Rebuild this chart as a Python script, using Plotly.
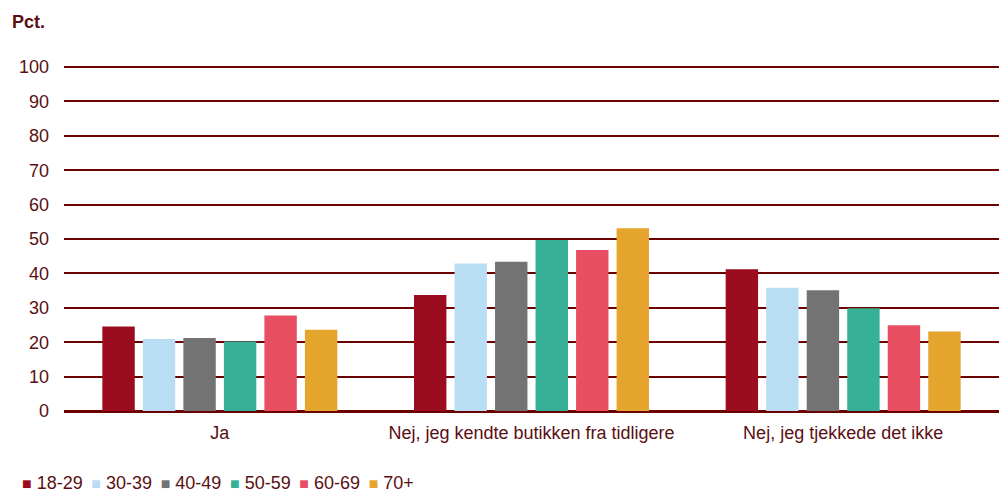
import plotly.graph_objects as go

categories = ["Ja", "Nej, jeg kendte butikken fra tidligere", "Nej, jeg tjekkede det ikke"]
age_groups = ["18-29", "30-39", "40-49", "50-59", "60-69", "70+"]
v_18_29 = [24.6, 33.7, 41.2]
v_30_39 = [20.9, 42.9, 35.8]
v_40_49 = [21.2, 43.4, 35.1]
v_50_59 = [20.2, 49.7, 29.9]
v_60_69 = [27.8, 46.8, 24.9]
v_70 = [23.6, 53.1, 23.1]
series = [v_18_29, v_30_39, v_40_49, v_50_59, v_60_69, v_70]
colors = ["#9b0c1e", "#b9ddf3", "#737373", "#36b097", "#e84f62", "#e5a42b"]
y_ticks = [0, 10, 20, 30, 40, 50, 60, 70, 80, 90, 100]

txt = "#5a0f12"
grid = "#6b0000"
FONT = "Liberation Sans, Arial, sans-serif"

fig = go.Figure()
for name, vals, col in zip(age_groups, series, colors):
    fig.add_trace(go.Bar(x=categories, y=vals, name=name, marker_color=col,
                         marker_line_width=0, showlegend=False))

legend_text = "&nbsp;&#8201;".join(
    f"<span style='color:{c};font-size:16px'>■</span>&nbsp;{g}"
    for g, c in zip(age_groups, colors)
)

fig.update_layout(
    width=999, height=493,
    paper_bgcolor="white", plot_bgcolor="white",
    margin=dict(l=64, r=0, t=66, b=82, autoexpand=False),
    barmode="group", bargap=0.22, bargroupgap=0.2,
    font=dict(family=FONT, size=18, color=txt),
    showlegend=False,
    annotations=[
        dict(text="<b>Pct.</b>", x=12, y=22, xref="paper", yref="paper",
             showarrow=False, xanchor="left", yanchor="middle",
             font=dict(size=18, color=txt)),
        dict(text=legend_text, x=0, y=0, xref="paper", yref="paper",
             showarrow=False, xanchor="left", yanchor="middle",
             font=dict(size=18, color=txt)),
    ],
)
# position annotations in pixel terms relative to plot area (plot: x 64..999, y 66..411)
pw, ph = 999 - 64, 493 - 66 - 82
fig.layout.annotations[0].update(x=(10 - 64) / pw, y=(411 - 22) / ph)
fig.layout.annotations[1].update(x=(20 - 64) / pw, y=(411 - 483) / ph)

fig.update_xaxes(showgrid=False, showline=False, ticks="", automargin=False,
                 ticklabelstandoff=9, tickfont=dict(size=18, color=txt))
fig.update_yaxes(range=[0, 100.3], tickvals=y_ticks, showgrid=True, gridcolor=grid,
                 gridwidth=2, zeroline=True, zerolinecolor=grid, zerolinewidth=3,
                 ticks="", automargin=False, ticklabelstandoff=14,
                 tickfont=dict(size=18, color=txt))

fig.write_html("out.html", config={"displayModeBar": False},
               post_script="document.body.style.margin='0';")
